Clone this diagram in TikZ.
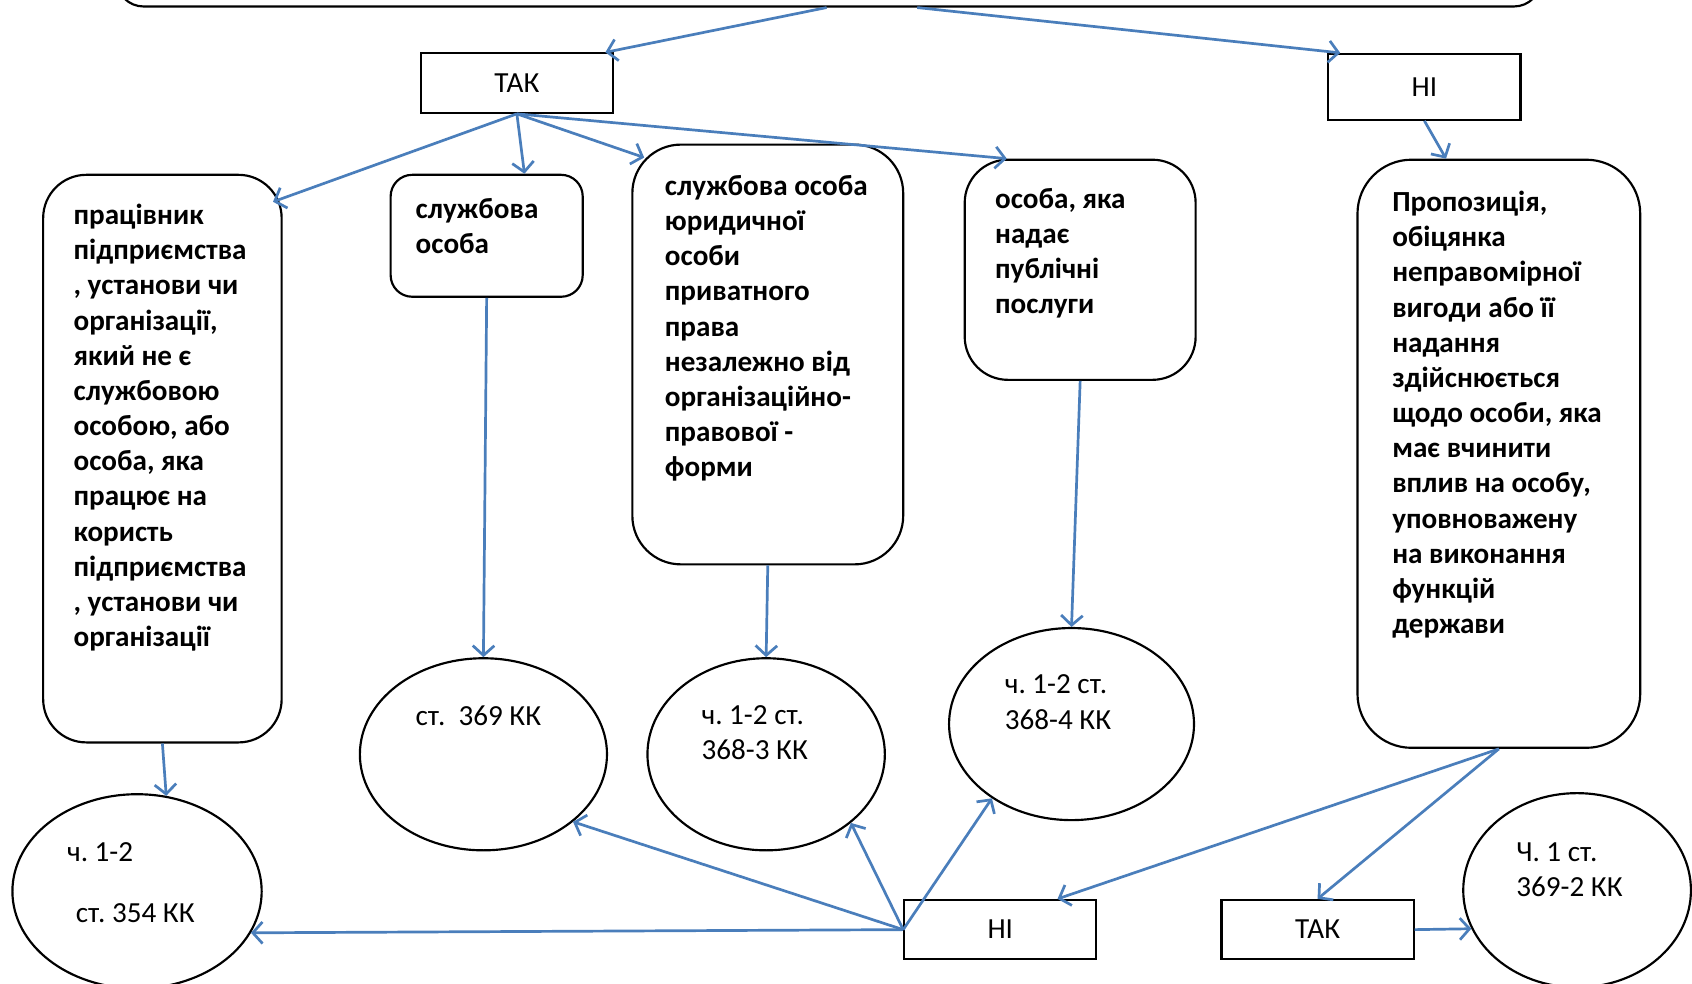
\documentclass[tikz,border=0pt]{standalone}
\usepackage{fontspec}
\setmainfont{Carlito}
\frenchspacing
\usetikzlibrary{shapes.geometric}
\usetikzlibrary{arrows.meta}

\begin{document}
\begin{tikzpicture}[x=1pt, y=-1pt,
  rbox/.style={draw, line width=2pt, inner sep=0pt},
  sqbox/.style={draw, line width=2pt, minimum width=178pt, minimum height=55pt, font=\fontsize{27}{32.6}\selectfont},
  oval/.style={draw, ellipse, line width=2pt, inner sep=0pt},
  lbl/.style={anchor=north west, inner sep=0pt, align=left, font=\bfseries\fontsize{27}{32.6}\selectfont},
  klbl/.style={lbl, font=\fontsize{27}{32.6}\selectfont},
  arr/.style={draw=arrblue, line width=2.5pt, -{Straight Barb[length=9pt,width=20pt]}}]
  \definecolor{arrblue}{RGB}{74,126,187}

  \useasboundingbox (0,0) rectangle (1568,911);
  \clip (0,0) rectangle (1568,911);

  % question box, cut off at the top
  \node[rbox, rounded corners=25pt, minimum width=1320pt, minimum height=80pt] (q) at (768,-34) {};

  % first answers
  \node[sqbox] (yes1) at (479,77) {ТАК};
  \node[sqbox, minimum height=61pt] (no1) at (1320,80.5) {НІ};

  % who receives
  \node[rbox, rounded corners=40pt, minimum width=221pt, minimum height=526pt] (b1) at (150.5,425) {};
  \node[rbox, rounded corners=20pt, minimum width=178pt, minimum height=113pt] (b2) at (451,218.5) {};
  \node[rbox, rounded corners=45pt, minimum width=251pt, minimum height=389pt] (b3) at (711.5,328.5) {};
  \node[rbox, rounded corners=40pt, minimum width=214pt, minimum height=204pt] (b4) at (1001,250) {};
  \node[rbox, rounded corners=50pt, minimum width=262pt, minimum height=545pt] (b5) at (1389,420.5) {};

  \node[lbl] (t1) at (68,185) {\strut працівник\\підприємства\\, установи чи\\організації,\\який не є\\службовою\\особою, або\\особа, яка\\працює на\\користь\\підприємства\\, установи чи\\організації};
  \node[lbl] (t2) at (385,179) {\strut службова\\особа};
  \node[lbl] (t3) at (616,158) {\strut службова особа\\юридичної\\особи\\приватного\\права\\незалежно від\\організаційно-\\правової -\\форми};
  \node[lbl] (t4) at (922,170) {\strut особа, яка\\надає\\публічні\\послуги};
  \node[lbl] (t5) at (1290,173) {\strut Пропозиція,\\обіцянка\\неправомірної\\вигоди або її\\надання\\здійснюється\\щодо особи, яка\\має вчинити\\вплив на особу,\\уповноважену\\на виконання\\функцій\\держави};

  % articles
  \node[oval, minimum width=231pt, minimum height=180pt] (e1) at (127,826) {};
  \node[oval, minimum width=229pt, minimum height=178pt] (e2) at (448,699) {};
  \node[oval, minimum width=220pt, minimum height=178pt] (e3) at (710,699) {};
  \node[oval, minimum width=227pt, minimum height=178pt] (e4) at (993,671) {};
  \node[oval, minimum width=211pt, minimum height=180pt] (e5) at (1461.5,825) {};

  \node[klbl] (k1a) at (62,775) {\strut ч. 1-2};
  \node[klbl] (k1b) at (70,832) {\strut ст. 354 КК};
  \node[klbl] (k2) at (385,649) {\strut ст.\ \ 369 КК};
  \node[klbl] (k3) at (650,648) {\strut ч. 1-2 ст.\\368-3 КК};
  \node[klbl] (k4) at (931,620) {\strut ч. 1-2 ст.\\368-4 КК};
  \node[klbl] (k5) at (1405,775) {\strut Ч. 1 ст.\\369-2 КК};

  % second answers
  \node[sqbox] (no2) at (927,861.5) {НІ};
  \node[sqbox] (yes2) at (1221,861.5) {ТАК};

  % connectors
  \draw[arr] ([xshift=-2pt]q.south) -- ([xshift=-8pt]yes1.north east);
  \draw[arr] ([xshift=82pt]q.south) -- ([xshift=12pt]no1.north west);
  \draw[arr] (no1.south) -- ([xshift=-49pt]b5.north);

  \draw[arr] (yes1.south) -- ([xshift=-9pt,yshift=-26pt]b1.north east);
  \draw[arr] (yes1.south) -- ([xshift=35pt]b2.north);
  \draw[arr] (yes1.south) -- ([xshift=12pt,yshift=-13pt]b3.north west);
  \draw[arr] (yes1.south) -- ([xshift=40pt]b4.north west);

  \draw[arr] (b1.south) -- (e1.73);
  \draw[arr] (b2.south) -- (e2.north);
  \draw[arr] (b3.south) -- (e3.north);
  \draw[arr] (b4.south) -- (e4.north);

  \draw[arr] (no2.west) -- (e1.-20);
  \draw[arr] (no2.west) -- (e2.-37);
  \draw[arr] (no2.west) -- (e3.-39);
  \draw[arr] (no2.west) -- (e4.223);

  \draw[arr] (b5.south) -- ([xshift=53pt]no2.north);
  \draw[arr] (b5.south) -- (yes2.north);
  \draw[arr] (yes2.east) -- (e5.200);

\end{tikzpicture}
\end{document}
